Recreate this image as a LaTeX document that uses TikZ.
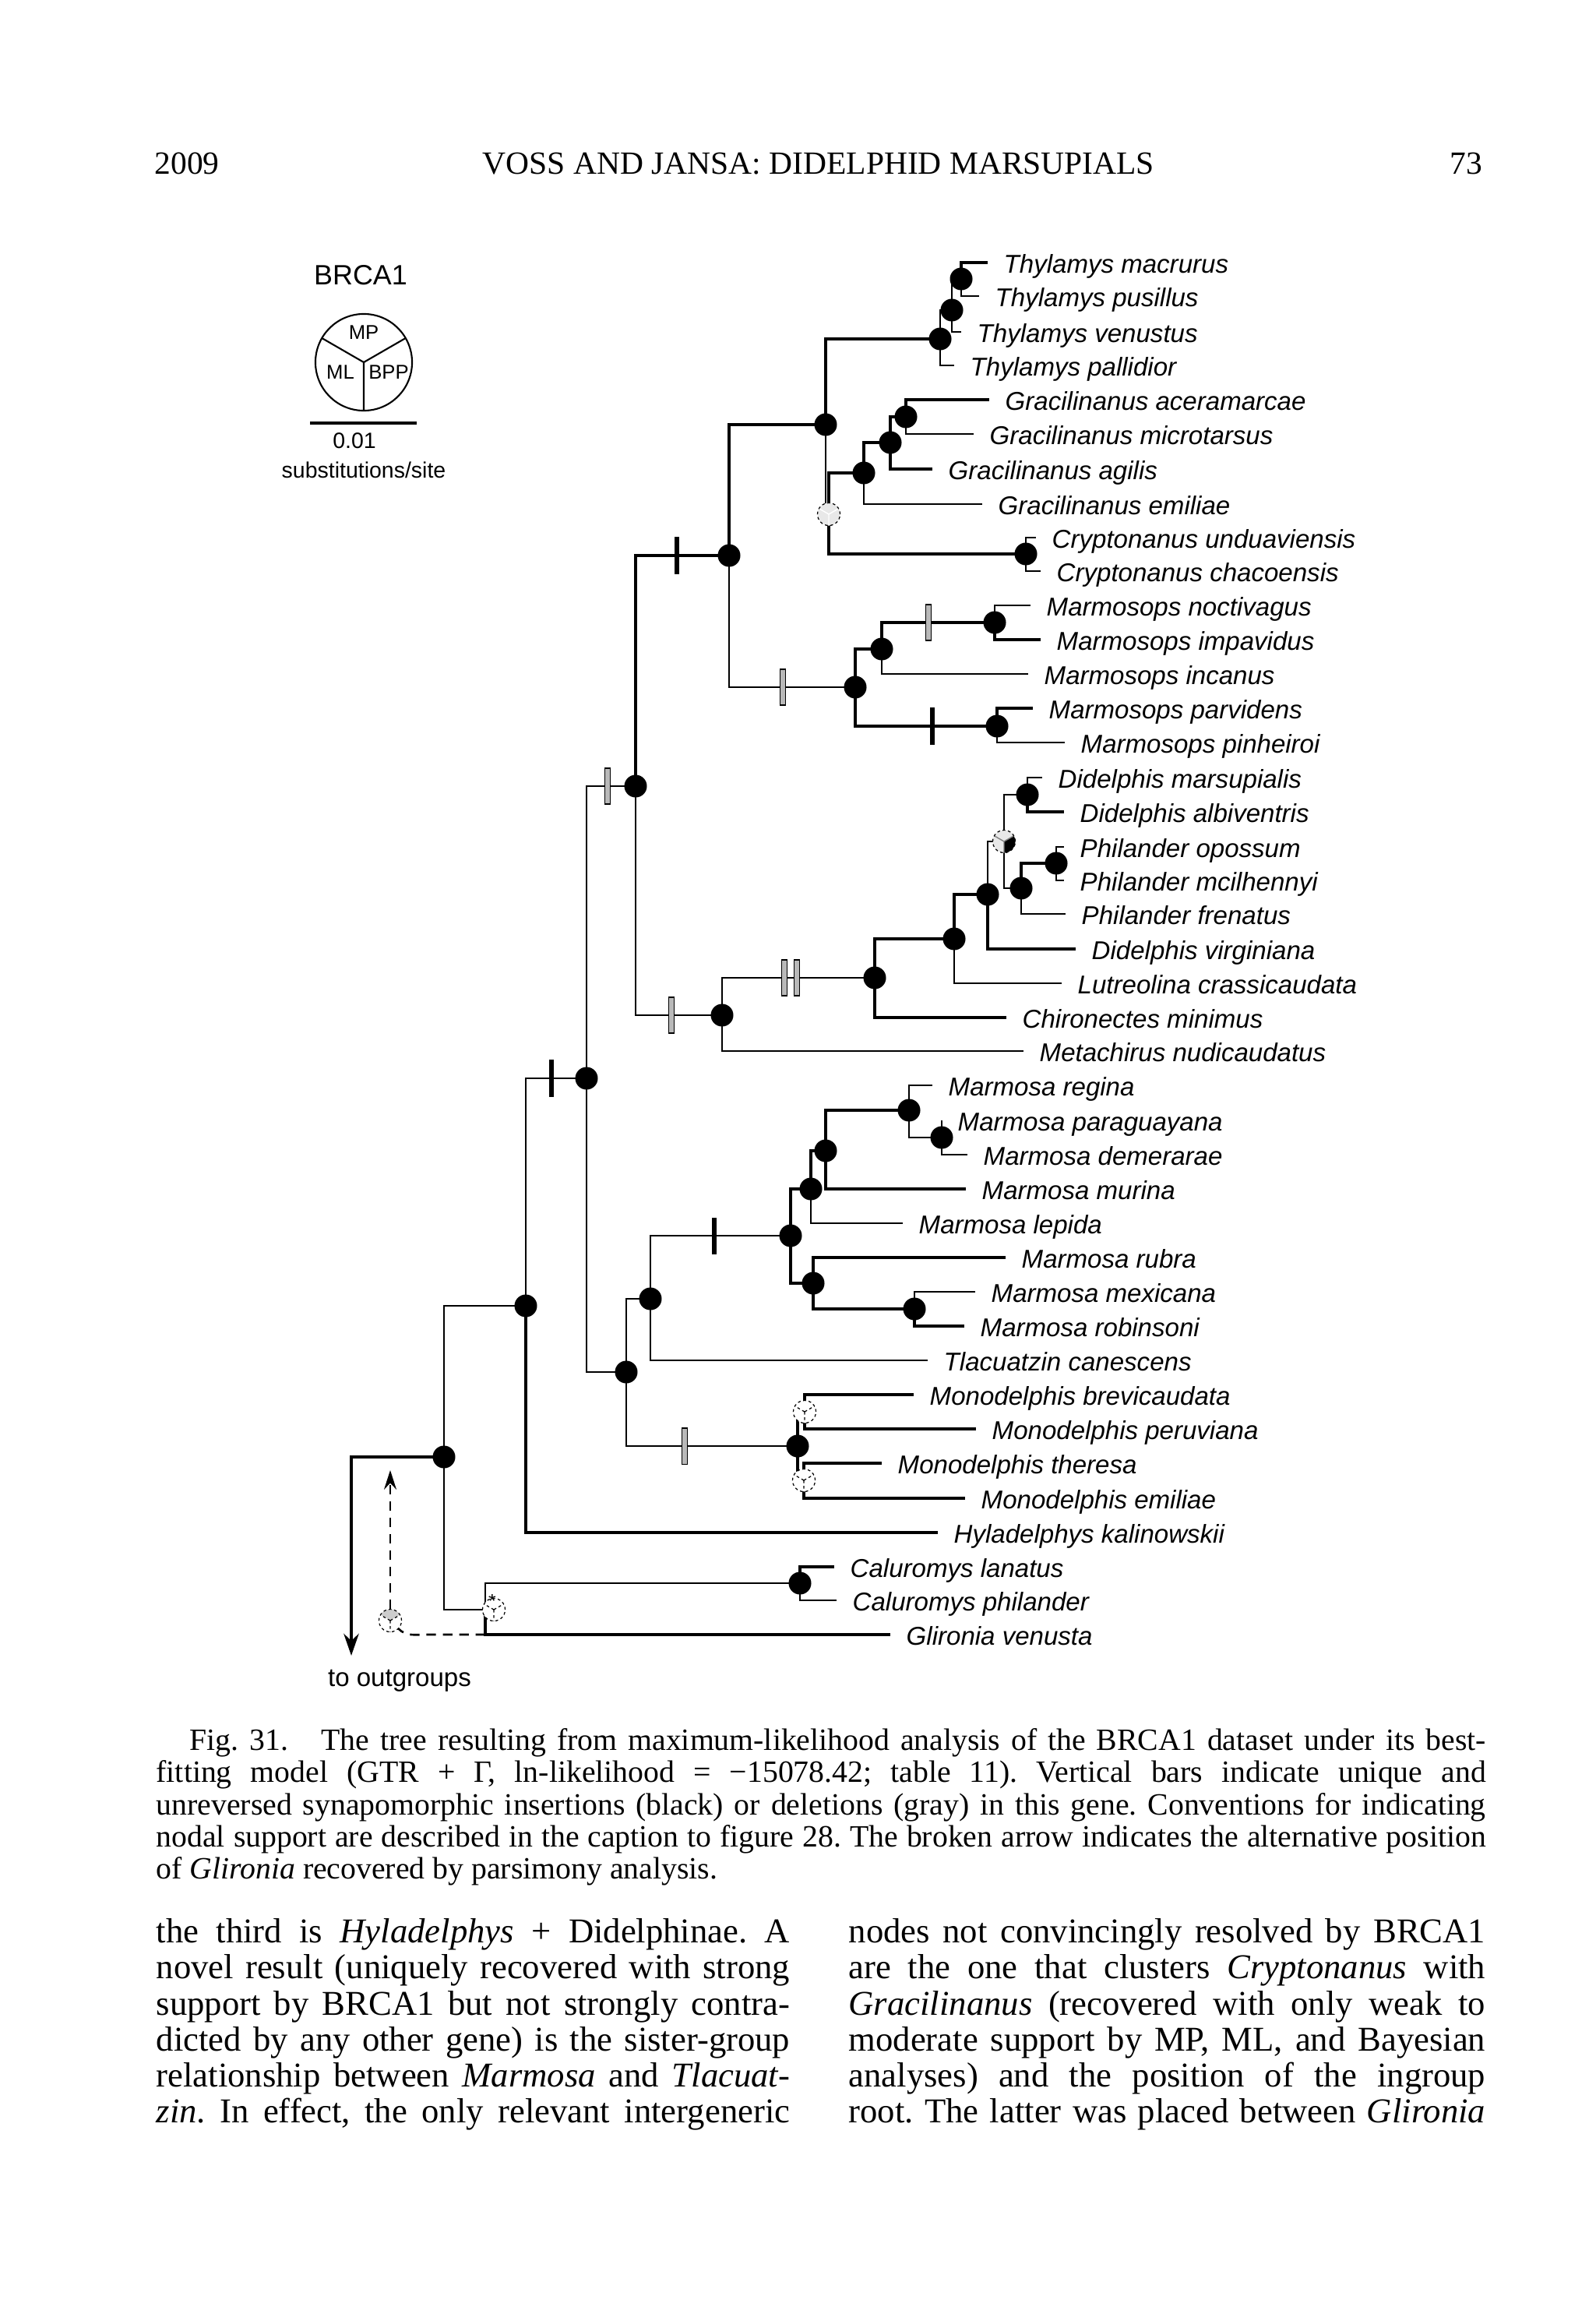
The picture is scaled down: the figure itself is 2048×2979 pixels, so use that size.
\documentclass[tikz,border=0pt]{standalone}
\usepackage{fontspec}
\setmainfont{Liberation Serif}
\newfontfamily\treefont{Liberation Sans}
\usetikzlibrary{arrows.meta}
\frenchspacing
\newcommand{\pierad}{0.145cm}
\newcommand{\jline}[1]{\hbox to\hsize{#1}}
% node support: MP (top), ML (lower left), BPP (lower right)
\newcommand{\support}[5]{%
\fill[#2] (#1) -- ++(30:\pierad) arc[start angle=30,end angle=150,radius=\pierad] -- cycle;
\fill[#3] (#1) -- ++(150:\pierad) arc[start angle=150,end angle=270,radius=\pierad] -- cycle;
\fill[#4] (#1) -- ++(270:\pierad) arc[start angle=270,end angle=390,radius=\pierad] -- cycle;
\draw[#5] (#1) -- ++(30:\pierad) (#1) -- ++(150:\pierad) (#1) -- ++(270:\pierad);
\draw[rim] (#1) circle[radius=\pierad];}
\begin{document}
\begin{tikzpicture}[x=0.01cm,y=-0.01cm,br/.style={line width=0.75pt},thk/.style={line width=1.2pt},tip/.style={anchor=west,inner xsep=0.2cm,inner ysep=0pt,text height=8pt,text depth=0.2pt,font=\treefont\fontsize{9.4}{11}\selectfont\itshape},rim/.style={draw=black,line width=0.35pt,dash pattern=on 1pt off 1pt},ins/.style={fill=black,inner sep=0pt,minimum width=0.065cm,minimum height=0.47cm},del/.style={fill=gray!55,draw=black,line width=0.3pt,inner sep=0pt,minimum width=0.07cm,minimum height=0.46cm},alt/.style={line width=0.75pt,dash pattern=on 3.5pt off 2.5pt},lgd/.style={inner sep=0pt,font=\treefont\fontsize{8.1}{9}\selectfont},hdr/.style={inner sep=0pt,font=\fontsize{11.8}{13}\selectfont}]
\useasboundingbox (0,0) rectangle (2048,2979);
\fill[white] (0,0) rectangle (2048,2979);
% running head
\node[hdr,anchor=base west] (hyear) at (198,224) {2009};
\node[hdr,anchor=base] (htitle) at (1051,224) {VOSS AND JANSA: DIDELPHID MARSUPIALS};
\node[hdr,anchor=base east] (hpage) at (1904,224) {73};
% legend
\node[lgd,font=\treefont\fontsize{10.2}{11}\selectfont] (brca) at (463,353) {BRCA1};
\coordinate (lc) at (467,465);
\draw[line width=0.6pt] (lc) circle[radius=0.62cm];
\draw[line width=0.6pt] (lc) -- ++(30:0.62cm) (lc) -- ++(150:0.62cm) (lc) -- ++(270:0.62cm);
\node[lgd,font=\treefont\fontsize{7.3}{8}\selectfont] (lmp) at (467,427) {MP};
\node[lgd,font=\treefont\fontsize{7.3}{8}\selectfont] (lml) at (437,478) {ML};
\node[lgd,font=\treefont\fontsize{7.3}{8}\selectfont] (lbpp) at (499,478) {BPP};
\coordinate (sbL) at (398,543);\coordinate (sbR) at (535,543);
\draw[line width=0.9pt] (sbL) -- (sbR);
\node[lgd] (sbv) at (455,566) {0.01};
\node[lgd] (sbt) at (467,603) {substitutions/site};
% internal nodes
\coordinate (T1) at (1234,358);\coordinate (T2) at (1222,398);\coordinate (T3) at (1207,435);
\coordinate (G1) at (1060,545);\coordinate (GC) at (1064,660);
\coordinate (g3) at (1109,607);\coordinate (g2) at (1143,568);\coordinate (g1) at (1163,535);
\coordinate (Cr) at (1317,711);\coordinate (D) at (936,713);
\coordinate (M3) at (1098,882);\coordinate (M2) at (1132,833);\coordinate (Mn) at (1277,799);\coordinate (Mp) at (1280,932);
\coordinate (C) at (816,1009);\coordinate (Me) at (927,1303);\coordinate (Di) at (1123,1255);
\coordinate (Dv) at (1225,1205);\coordinate (Dw) at (1268,1148);\coordinate (DP) at (1289,1080);
\coordinate (Dm) at (1319,1020);\coordinate (Ph) at (1311,1140);\coordinate (Po) at (1356,1108);
\coordinate (B) at (753,1384);\coordinate (MM) at (804,1761);\coordinate (MT) at (835,1667);
\coordinate (Ma) at (1015,1586);\coordinate (Mb) at (1041,1526);\coordinate (Mc) at (1060,1477);
\coordinate (Md) at (1167,1425);\coordinate (Mpd) at (1209,1460);\coordinate (Mr) at (1044,1647);\coordinate (Mx) at (1174,1680);
\coordinate (Mo) at (1024,1856);\coordinate (Mo1) at (1033,1812);\coordinate (Mo2) at (1032,1900);
\coordinate (HD) at (675,1676);\coordinate (R) at (570,1870);\coordinate (Ca) at (623,2066);\coordinate (CaP) at (634,2066);
\coordinate (Cl) at (1027,2032);
% terminal taxa
\node[tip] (tmac) at (1268,337) {Thylamys macrurus};
\node[tip] (tpus) at (1257,380) {Thylamys pusillus};
\node[tip] (tven) at (1234,426) {Thylamys venustus};
\node[tip] (tpal) at (1225,469) {Thylamys pallidior};
\node[tip] (gace) at (1270,513) {Gracilinanus aceramarcae};
\node[tip] (gmic) at (1250,557) {Gracilinanus microtarsus};
\node[tip] (gagi) at (1197,602) {Gracilinanus agilis};
\node[tip] (gemi) at (1261,647) {Gracilinanus emiliae};
\node[tip] (cund) at (1330,690) {Cryptonanus unduaviensis};
\node[tip] (ccha) at (1336,733) {Cryptonanus chacoensis};
\node[tip] (snoc) at (1323,777) {Marmosops noctivagus};
\node[tip] (simp) at (1336,821) {Marmosops impavidus};
\node[tip] (sinc) at (1320,865) {Marmosops incanus};
\node[tip] (spar) at (1326,909) {Marmosops parvidens};
\node[tip] (spin) at (1367,953) {Marmosops pinheiroi};
\node[tip] (dmar) at (1338,998) {Didelphis marsupialis};
\node[tip] (dalb) at (1366,1042) {Didelphis albiventris};
\node[tip] (popo) at (1366,1087) {Philander opossum};
\node[tip] (pmci) at (1366,1130) {Philander mcilhennyi};
\node[tip] (pfre) at (1368,1173) {Philander frenatus};
\node[tip] (dvir) at (1381,1218) {Didelphis virginiana};
\node[tip] (dlut) at (1363,1262) {Lutreolina crassicaudata};
\node[tip] (dchi) at (1292,1306) {Chironectes minimus};
\node[tip] (dmet) at (1314,1349) {Metachirus nudicaudatus};
\node[tip] (mreg) at (1197,1393) {Marmosa regina};
\node[tip] (mpgy) at (1209,1438) {Marmosa paraguayana};
\node[tip] (mdem) at (1242,1482) {Marmosa demerarae};
\node[tip] (mmur) at (1240,1526) {Marmosa murina};
\node[tip] (mlep) at (1159,1570) {Marmosa lepida};
\node[tip] (mrub) at (1291,1614) {Marmosa rubra};
\node[tip] (mmex) at (1252,1658) {Marmosa mexicana};
\node[tip] (mrob) at (1238,1702) {Marmosa robinsoni};
\node[tip] (tcan) at (1191,1746) {Tlacuatzin canescens};
\node[tip] (obre) at (1173,1790) {Monodelphis brevicaudata};
\node[tip] (oper) at (1253,1834) {Monodelphis peruviana};
\node[tip] (othe) at (1132,1878) {Monodelphis theresa};
\node[tip] (oemi) at (1239,1923) {Monodelphis emiliae};
\node[tip] (hkal) at (1204,1967) {Hyladelphys kalinowskii};
\node[tip] (clan) at (1071,2011) {Caluromys lanatus};
\node[tip] (cphi) at (1074,2054) {Caluromys philander};
\node[tip] (gven) at (1143,2098) {Glironia venusta};
% branches
\draw[thk] (T1) |- (tmac.west);\draw[br] (T1) |- (tpus.west);
\draw[br] (T2) |- (T1);\draw[br] (T2) |- (tven.west);
\draw[br] (T3) |- (T2);\draw[br] (T3) |- (tpal.west);
\draw[thk] (G1) |- (T3);\draw[br] (G1) |- (GC);
\draw[thk] (GC) |- (g3);\draw[thk] (GC) |- (Cr);
\draw[thk] (g3) |- (g2);\draw[br] (g3) |- (gemi.west);
\draw[thk] (g2) |- (g1);\draw[thk] (g2) |- (gagi.west);
\draw[thk] (g1) |- (gace.west);\draw[br] (g1) |- (gmic.west);
\draw[br] (Cr) |- (cund.west);\draw[br] (Cr) |- (ccha.west);
\draw[thk] (D) |- (G1);\draw[br] (D) |- (M3);
\draw[thk] (M3) |- (M2);\draw[thk] (M3) |- (Mp);
\draw[thk] (M2) |- (Mn);\draw[br] (M2) |- (sinc.west);
\draw[br] (Mn) |- (snoc.west);\draw[thk] (Mn) |- (simp.west);
\draw[thk] (Mp) |- (spar.west);\draw[br] (Mp) |- (spin.west);
\draw[thk] (C) |- (D);\draw[br] (C) |- (Me);
\draw[br] (Me) |- (Di);\draw[br] (Me) |- (dmet.west);
\draw[thk] (Di) |- (Dv);\draw[thk] (Di) |- (dchi.west);
\draw[thk] (Dv) |- (Dw);\draw[br] (Dv) |- (dlut.west);
\draw[br] (Dw) |- (DP);\draw[thk] (Dw) |- (dvir.west);
\draw[br] (DP) |- (Dm);\draw[br] (DP) |- (Ph);
\draw[br] (Dm) |- (dmar.west);\draw[thk] (Dm) |- (dalb.west);
\draw[thk] (Ph) |- (Po);\draw[br] (Ph) |- (pfre.west);
\draw[br] (Po) |- (popo.west);\draw[br] (Po) |- (pmci.west);
\draw[br] (B) |- (C);\draw[br] (B) |- (MM);
\draw[br] (MM) |- (MT);\draw[br] (MM) |- (Mo);
\draw[br] (MT) |- (Ma);\draw[br] (MT) |- (tcan.west);
\draw[thk] (Ma) |- (Mb);\draw[thk] (Ma) |- (Mr);
\draw[thk] (Mb) |- (Mc);\draw[br] (Mb) |- (mlep.west);
\draw[thk] (Mc) |- (Md);\draw[thk] (Mc) |- (mmur.west);
\draw[br] (Md) |- (mreg.west);\draw[br] (Md) |- (Mpd);
\draw[br] (Mpd) |- (mpgy.west);\draw[br] (Mpd) |- (mdem.west);
\draw[thk] (Mr) |- (mrub.west);\draw[thk] (Mr) |- (Mx);
\draw[br] (Mx) |- (mmex.west);\draw[thk] (Mx) |- (mrob.west);
\draw[thk] (Mo) |- (Mo1);\draw[thk] (Mo) |- (Mo2);
\draw[thk] (Mo1) |- (obre.west);\draw[thk] (Mo1) |- (oper.west);
\draw[thk] (Mo2) |- (othe.west);\draw[thk] (Mo2) |- (oemi.west);
\draw[br] (HD) |- (B);\draw[thk] (HD) |- (hkal.west);
\draw[br] (R) |- (HD);\draw[br] (R) |- (Ca);
\draw[br] (Ca) |- (Cl);\draw[thk] (Ca) |- (gven.west);
\draw[thk] (Cl) |- (clan.west);\draw[br] (Cl) |- (cphi.west);
% root and alternative position of Glironia
\coordinate (outg) at (451,2125);
\draw[thk,-{Stealth[length=8pt,width=5.5pt]}] (R) -| (outg);
\node[inner sep=0pt,font=\treefont\fontsize{9.4}{11}\selectfont] (outl) at (513,2157) {to outgroups};
\coordinate (altp) at (501,2080);\coordinate (altbend) at (548,2098);\coordinate (altend) at (501,1887);
\draw[alt] (Ca |- gven.west) -- (altbend) to[out=180,in=-45] ([shift={(-45:\pierad)}]altp);
\draw[alt,-{Stealth[length=7pt,width=4.5pt]}] ([shift={(90:\pierad)}]altp) -- (altend);
% insertions (black) and deletions (gray)
\node[ins] (i1) at (869,713) {};\node[ins] (i2) at (1197,932) {};\node[ins] (i3) at (708,1384) {};\node[ins] (i4) at (917,1586) {};
\node[del] (d1) at (780,1009) {};\node[del] (d2) at (1005,882) {};\node[del] (d3) at (1192,799) {};
\node[del] (d4) at (1007,1255) {};\node[del] (d5) at (1023,1255) {};\node[del] (d6) at (862,1303) {};\node[del] (d7) at (879,1856) {};
% nodal support
\fill (T1) circle[radius=\pierad];\fill (T2) circle[radius=\pierad];\fill (T3) circle[radius=\pierad];\fill (G1) circle[radius=\pierad];
\fill (g1) circle[radius=\pierad];\fill (g2) circle[radius=\pierad];\fill (g3) circle[radius=\pierad];\fill (Cr) circle[radius=\pierad];
\fill (D) circle[radius=\pierad];\fill (M3) circle[radius=\pierad];\fill (M2) circle[radius=\pierad];\fill (Mn) circle[radius=\pierad];
\fill (Mp) circle[radius=\pierad];\fill (C) circle[radius=\pierad];\fill (Me) circle[radius=\pierad];\fill (Di) circle[radius=\pierad];
\fill (Dv) circle[radius=\pierad];\fill (Dw) circle[radius=\pierad];\fill (Dm) circle[radius=\pierad];\fill (Ph) circle[radius=\pierad];
\fill (Po) circle[radius=\pierad];\fill (B) circle[radius=\pierad];\fill (MM) circle[radius=\pierad];\fill (MT) circle[radius=\pierad];
\fill (Ma) circle[radius=\pierad];\fill (Mb) circle[radius=\pierad];\fill (Mc) circle[radius=\pierad];\fill (Md) circle[radius=\pierad];
\fill (Mpd) circle[radius=\pierad];\fill (Mr) circle[radius=\pierad];\fill (Mx) circle[radius=\pierad];\fill (Mo) circle[radius=\pierad];
\fill (HD) circle[radius=\pierad];\fill (R) circle[radius=\pierad];\fill (Cl) circle[radius=\pierad];
\support{GC}{gray!18}{gray!18}{gray!18}{white,line width=0.4pt}
\support{DP}{gray!18}{gray!18}{black}{gray,line width=0.4pt}
\support{Mo1}{white}{white}{white}{rim}
\support{Mo2}{white}{white}{white}{rim}
\support{CaP}{white}{white}{white}{rim}
\support{altp}{gray!40}{white}{white}{rim}
\node[inner sep=0pt,anchor=base,font=\treefont\fontsize{7}{8}\selectfont] (ast) at (632,2063) {*};
% caption and text
\node[anchor=north west,inner sep=0pt,font=\fontsize{11.3}{11.72}\selectfont] (capt) at (200,2218) {\vbox{\hsize=17.06cm\frenchspacing
\jline{\hspace*{0.43cm}Fig.\ 31.\hskip 0.9em plus 0.2em The tree resulting from maximum-likelihood analysis of the BRCA1 dataset under its best-}
\jline{fitting model (GTR + Γ, ln-likelihood = −15078.42; table 11). Vertical bars indicate unique and}
\jline{unreversed synapomorphic insertions (black) or deletions (gray) in this gene. Conventions for indicating}
\jline{nodal support are described in the caption to figure 28. The broken arrow indicates the alternative position}
\hbox{of \textit{Glironia} recovered by parsimony analysis.}}};
\node[anchor=north west,inner sep=0pt,font=\fontsize{12.7}{13.15}\selectfont] (colL) at (200,2462) {\vbox{\hsize=8.13cm\frenchspacing
\jline{the third is \textit{Hyladelphys} + Didelphinae. A}
\jline{novel result (uniquely recovered with strong}
\jline{support by BRCA1 but not strongly contra-}
\jline{dicted by any other gene) is the sister-group}
\jline{relationship between \textit{Marmosa} and \textit{Tlacuat-}}
\jline{\textit{zin}. In effect, the only relevant intergeneric}}};
\node[anchor=north west,inner sep=0pt,font=\fontsize{12.7}{13.15}\selectfont] (colR) at (1089,2462) {\vbox{\hsize=8.17cm\frenchspacing
\jline{nodes not convincingly resolved by BRCA1}
\jline{are the one that clusters \textit{Cryptonanus} with}
\jline{\textit{Gracilinanus} (recovered with only weak to}
\jline{moderate support by MP, ML, and Bayesian}
\jline{analyses) and the position of the ingroup}
\jline{root. The latter was placed between \textit{Glironia}}}};
\end{tikzpicture}
\end{document}
